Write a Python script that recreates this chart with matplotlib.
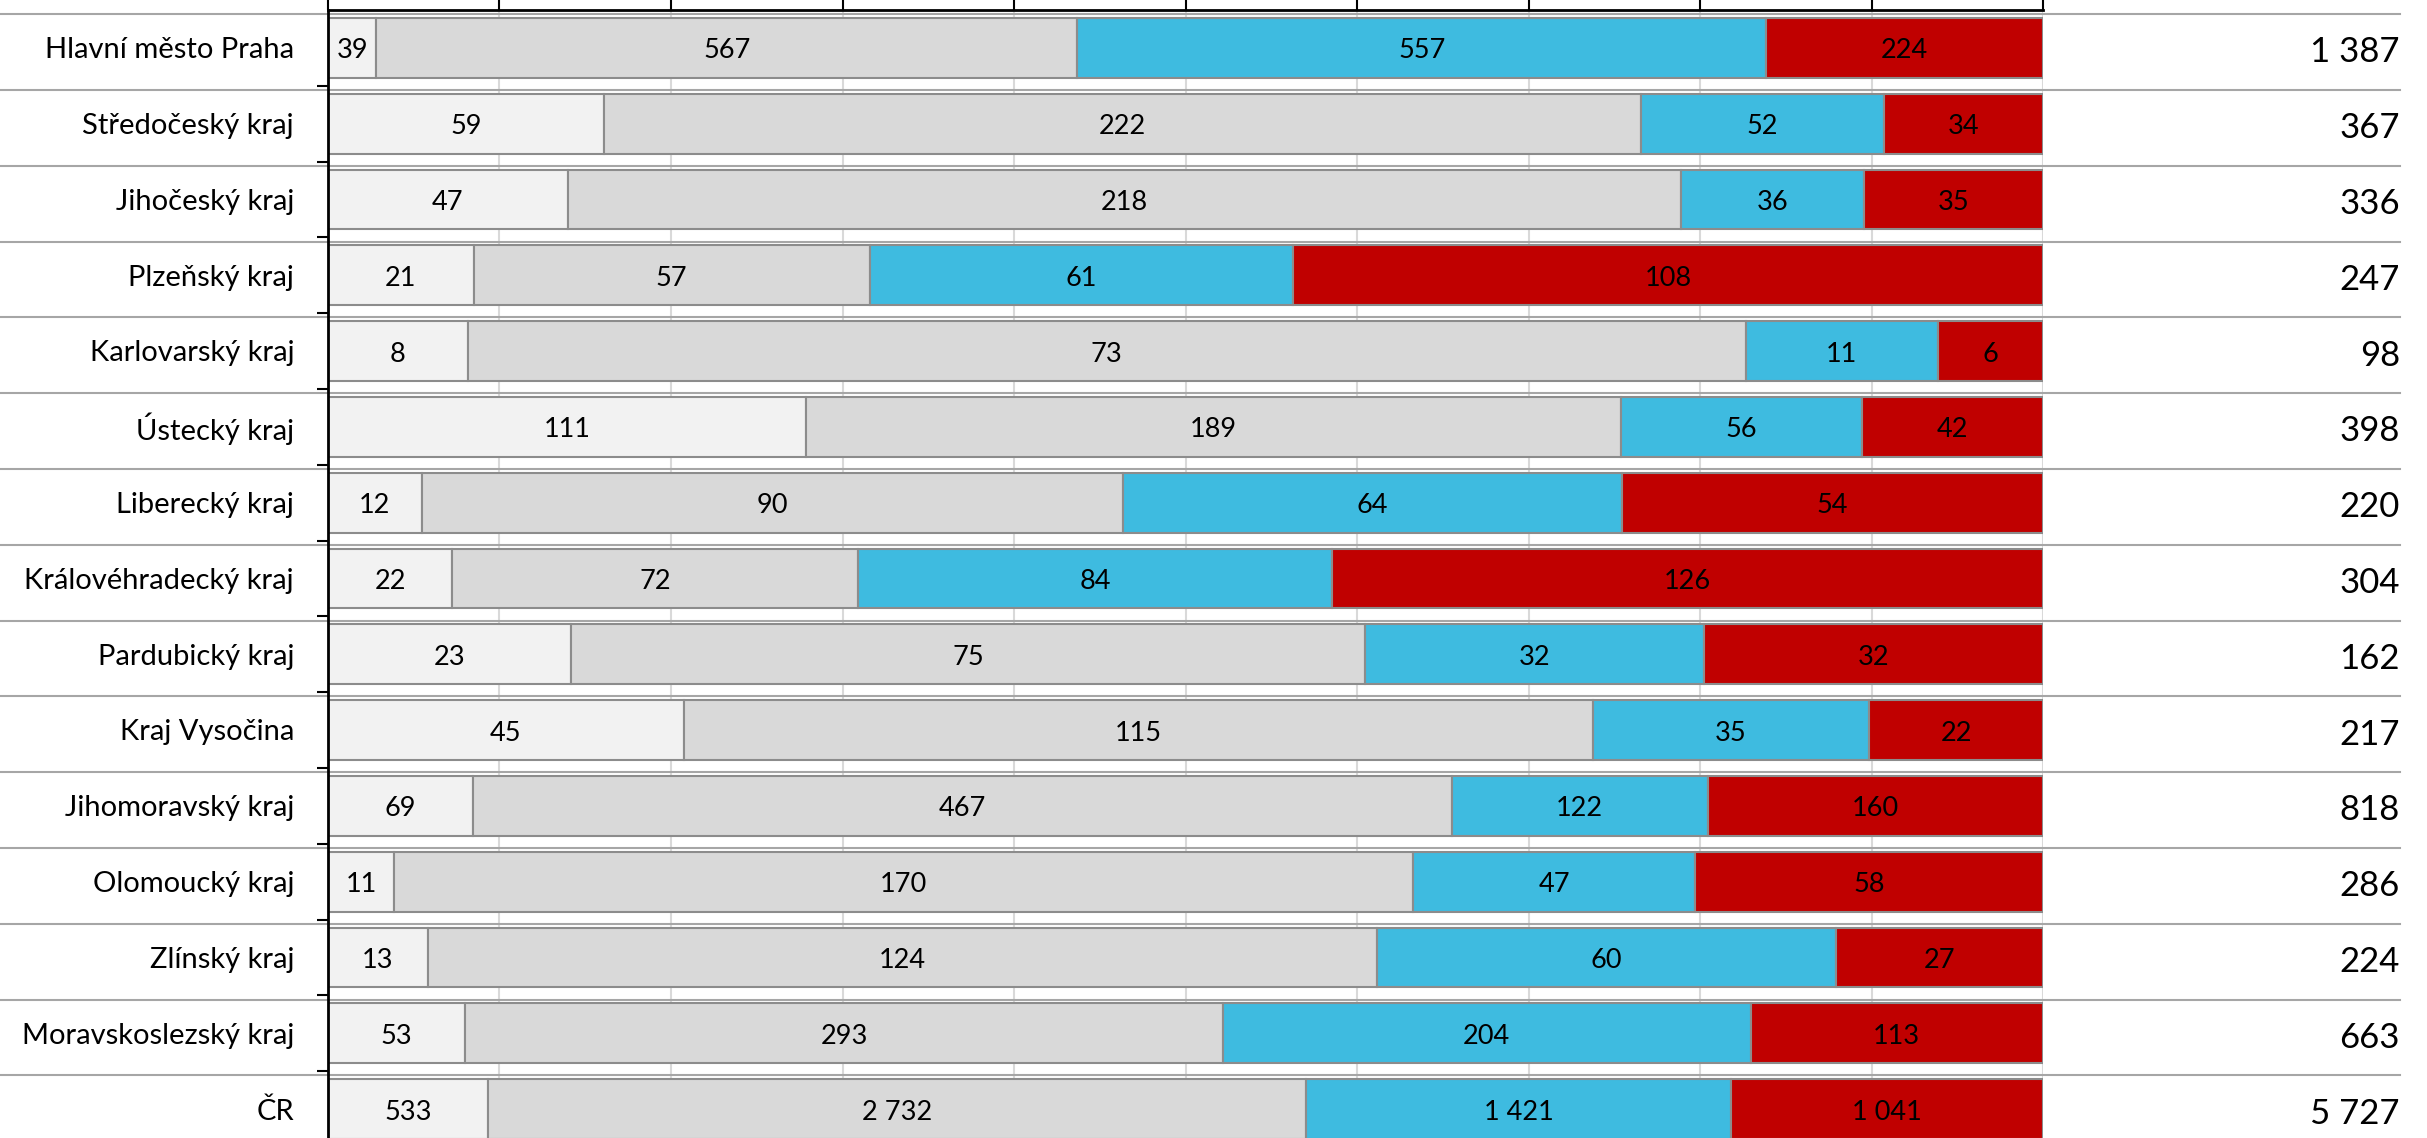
import numpy as np
import matplotlib
matplotlib.use('Agg')
import matplotlib.pyplot as plt
import matplotlib.transforms as mtransforms

plt.rcParams['font.family'] = ['Lato', 'DejaVu Sans']

kraje = ['Hlavní město Praha', 'Středočeský kraj', 'Jihočeský kraj', 'Plzeňský kraj',
         'Karlovarský kraj', 'Ústecký kraj', 'Liberecký kraj', 'Královéhradecký kraj',
         'Pardubický kraj', 'Kraj Vysočina', 'Jihomoravský kraj', 'Olomoucký kraj',
         'Zlínský kraj', 'Moravskoslezský kraj', 'ČR']
s1 = [39, 59, 47, 21, 8, 111, 12, 22, 23, 45, 69, 11, 13, 53, 533]
s2 = [567, 222, 218, 57, 73, 189, 90, 72, 75, 115, 467, 170, 124, 293, 2732]
s3 = [557, 52, 36, 61, 11, 56, 64, 84, 32, 35, 122, 47, 60, 204, 1421]
s4 = [224, 34, 35, 108, 6, 42, 54, 126, 32, 22, 160, 58, 27, 113, 1041]
barvy = ['#f2f2f2', '#d9d9d9', '#3ebbe0', '#c00000']

def fmt(v):
    return f'{v:,}'.replace(',', ' ')

data = np.array([s1, s2, s3, s4], dtype=float)
celkem = data.sum(axis=0)
podil = data / celkem

W, H = 2427, 1138
fig = plt.figure(figsize=(W / 100, H / 100), dpi=100)
row_px = 75.8
top_px = 10
n = len(kraje)
ax_h = n * row_px / H
ax = fig.add_axes([328 / W, 1 - top_px / H - ax_h, (2043 - 328) / W, ax_h])

y = np.arange(n)
left = np.zeros(n)
for k in range(4):
    ax.barh(y, podil[k], left=left, height=0.79, color=barvy[k],
            edgecolor='#8c8c8c', linewidth=1.5, zorder=3)
    for i in range(n):
        ax.text(left[i] + podil[k][i] / 2, y[i] + 0.04, fmt(int(data[k][i])),
                ha='center', va='center', fontsize=19.5, color='black', zorder=4)
    left += podil[k]

ax.set_xlim(0, 1)
ax.set_ylim(n - 0.5, -0.5)

# svislá mřížka po 10 %
ax.set_xticks(np.arange(0, 1.01, 0.1))
ax.xaxis.grid(True, color='#d9d9d9', linewidth=1.5, zorder=0)
ax.xaxis.tick_top()
ax.tick_params(axis='x', direction='out', length=25, width=1.5, color='black',
               labeltop=False)

ax.set_yticks(np.arange(n) + 0.5)
ax.set_yticklabels([])
ax.tick_params(axis='y', direction='out', length=8, width=1.5, color='black')

for sp in ['right', 'bottom']:
    ax.spines[sp].set_visible(False)
ax.spines['top'].set_linewidth(2)
ax.spines['left'].set_linewidth(2)
ax.spines['top'].set_zorder(5)
ax.spines['left'].set_zorder(5)

# oddělovací čáry řádků přes celou šířku
tr = mtransforms.blended_transform_factory(fig.transFigure, ax.transData)
for b in np.arange(-0.5, n - 0.5, 1.0):
    ax.plot([0, 2400 / W], [b + 0.055, b + 0.055], transform=tr, color='#a6a6a6',
            linewidth=1.5, clip_on=False, zorder=2)

# názvy krajů a součty
for i in range(n):
    ax.text(294 / W, y[i] + 0.03, kraje[i], transform=tr, ha='right', va='center',
            fontsize=21, color='black')
    ax.text(2400 / W, y[i] + 0.06, fmt(int(celkem[i])), transform=tr, ha='right',
            va='center', fontsize=25, color='black')

fig.savefig('out.png', dpi=100)
